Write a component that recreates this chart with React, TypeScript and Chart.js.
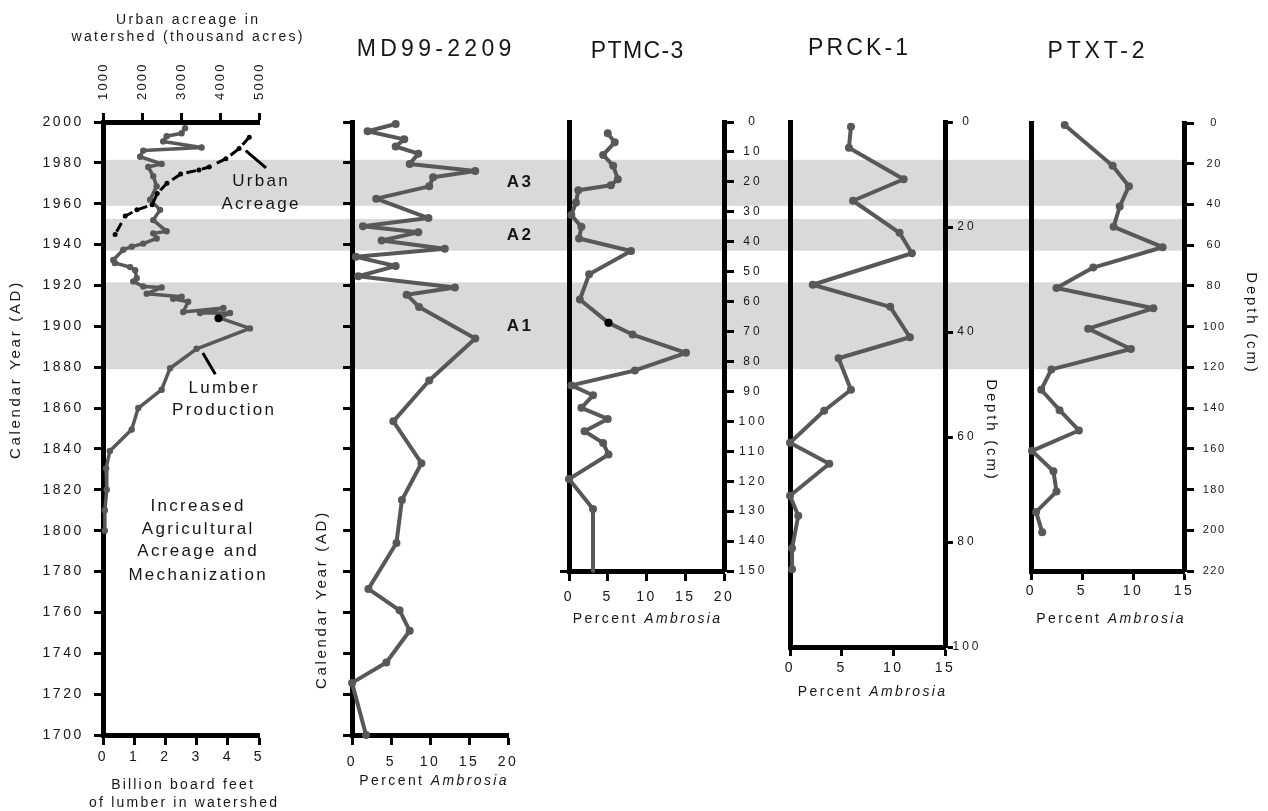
import { useEffect, useRef } from 'react';
import { Chart, registerables } from 'chart.js';

Chart.register(...registerables);

const W = 1268;
const H = 811;
const FONT = '"Liberation Sans", Arial, Helvetica, sans-serif';
const INK = '#161616';
const LINE = '#585858';
const BAND = '#d9d9d9';

// Shaded intervals, calendar years AD
const bandNames = ['A1', 'A2', 'A3'];
const bandStart = [1879, 1937, 1959];
const bandEnd = [1921.5, 1952.5, 1981.5];

// Lumber production in the watershed (billion board feet)
const lumberYears = [1997, 1994.5, 1993, 1990.5, 1987.5, 1986, 1983, 1979.5, 1978, 1973.5, 1968.5, 1962, 1957, 1952, 1946.5, 1945.5, 1943, 1940.5, 1939, 1937.5, 1932.5, 1931, 1929, 1927.5, 1923.5, 1922, 1919.5, 1919, 1916, 1914.5, 1913.5, 1912, 1907, 1909, 1906.5, 1906.5, 1904, 1899, 1889, 1879.5, 1869, 1860, 1849.5, 1839, 1830.5, 1820, 1810, 1800];
const lumberBbf = [2.63, 2.52, 2.04, 1.93, 3.16, 1.29, 1.19, 1.88, 1.45, 1.61, 1.72, 1.51, 1.83, 1.61, 2.04, 1.61, 1.72, 1.29, 0.92, 0.65, 0.33, 0.38, 0.87, 1.03, 1.08, 0.97, 1.29, 1.88, 1.4, 2.52, 2.25, 2.73, 2.57, 3.86, 3.11, 4.07, 3.75, 4.71, 3.0, 2.15, 1.88, 1.13, 0.92, 0.22, 0.1, 0.12, 0.06, 0.06];
const lumberMarkYear = [1904];
const lumberMarkBbf = [3.7];

// Urban acreage in the watershed (thousand acres)
const urbanYears = [1992.5, 1987, 1982, 1978, 1976.5, 1974.5, 1970, 1965, 1959.5, 1957, 1954, 1945];
const urbanAcres = [4750, 4490, 4150, 3720, 3460, 2990, 2640, 2390, 2260, 1870, 1570, 1310];

// Leader lines from the curve labels (panel data units)
const urbanPointerAcres = [4660, 5180];
const urbanPointerYears = [1986, 1977.5];
const lumberPointerBbf = [3.2, 3.6];
const lumberPointerYears = [1887, 1876.5];

// MD99-2209: percent Ambrosia by calendar year
const md99Years = [1999, 1995.5, 1991.5, 1988, 1984.5, 1979.5, 1976, 1973, 1968.5, 1962.5, 1953, 1949, 1946, 1942, 1938, 1934, 1929.5, 1924.5, 1919, 1915.5, 1909.5, 1894, 1873.5, 1853.5, 1833, 1815, 1794, 1771.5, 1761, 1751, 1735.5, 1725.5, 1700];
const md99Ambrosia = [5.6, 2.0, 6.7, 5.6, 8.5, 7.4, 15.8, 10.4, 9.9, 3.1, 9.8, 1.4, 8.5, 3.8, 11.9, 0.5, 5.6, 0.8, 13.2, 7.0, 8.6, 15.8, 9.9, 5.3, 8.9, 6.4, 5.7, 2.1, 6.1, 7.4, 4.4, 0.0, 1.8];

// PTMC-3: percent Ambrosia by depth (cm)
const ptmcDepth = [3.8, 6.8, 11.0, 14.6, 19.1, 21.1, 22.8, 26.9, 31.1, 35.0, 38.9, 43.1, 50.9, 59.3, 67.1, 71.0, 77.1, 83.0, 88.0, 91.3, 95.5, 99.2, 103.3, 107.2, 111.1, 119.3, 129.3, 150];
const ptmcAmbrosia = [5.0, 5.9, 4.4, 5.7, 6.3, 5.4, 1.2, 0.9, 0.3, 1.6, 1.3, 8.0, 2.6, 1.4, 5.1, 8.2, 15.1, 8.5, 0.3, 3.1, 1.6, 5.0, 2.0, 4.4, 5.1, 0.0, 3.1, 3.1];
const ptmcMarkDepth = [67.1];
const ptmcMarkAmbrosia = [5.1];

// PRCK-1: percent Ambrosia by depth (cm)
const prckDepth = [0.9, 4.9, 10.9, 15.0, 21.1, 25.0, 31.0, 35.2, 41.0, 45.0, 51.0, 55.0, 61.1, 65.1, 71.2, 75.0, 81.2, 85.2];
const prckAmbrosia = [5.9, 5.7, 11.0, 6.1, 10.6, 11.8, 2.2, 9.7, 11.6, 4.7, 5.9, 3.3, 0.0, 3.8, 0.0, 0.8, 0.2, 0.2];

// PTXT-2: percent Ambrosia by depth (cm)
const ptxtDepth = [1, 21, 31, 41, 51, 61, 71, 81, 91, 101, 111, 121, 131, 141, 151, 161, 171, 181, 191, 201];
const ptxtAmbrosia = [3.3, 8.0, 9.6, 8.7, 8.1, 12.9, 6.1, 2.5, 12.0, 5.6, 9.8, 2.0, 1.0, 2.8, 4.7, 0.1, 2.2, 2.5, 0.5, 1.1];

const pts = (xs: number[], ys: number[]) => xs.map((x, i) => ({ x, y: ys[i] }));
const label = (v: number | string) => String(v);

type Part = { t: string; italic?: boolean; bold?: boolean };
type Note = { parts: Part[]; x: number; y: number; size: number; sp: number; rot: number };

const note = (t: string, x: number, y: number, size: number, sp = 0, rot = 0): Note => ({ parts: [{ t }], x, y, size, sp, rot });
const ambrosiaTitle = (x: number, y: number): Note => ({
  parts: [{ t: 'Percent ' }, { t: 'Ambrosia', italic: true }],
  x,
  y,
  size: 14,
  sp: 2.4,
  rot: 0,
});

function drawNote(ctx: any, n: Note) {
  ctx.save();
  ctx.translate(n.x, n.y);
  if (n.rot) ctx.rotate((n.rot * Math.PI) / 180);
  ctx.letterSpacing = `${n.sp}px`;
  ctx.textBaseline = 'middle';
  ctx.textAlign = 'left';
  ctx.fillStyle = INK;
  const fonts = n.parts.map((p) => `${p.italic ? 'italic ' : ''}${p.bold ? 'bold ' : ''}${n.size}px ${FONT}`);
  const widths = n.parts.map((p, i) => {
    ctx.font = fonts[i];
    return ctx.measureText(p.t).width;
  });
  const total = widths.reduce((a, b) => a + b, 0) - n.sp;
  let cx = -total / 2;
  n.parts.forEach((p, i) => {
    ctx.font = fonts[i];
    ctx.fillText(p.t, cx, 0);
    cx += widths[i];
  });
  ctx.restore();
}

function notesPlugin(id: string, notes: Note[], extra?: (chart: any) => void) {
  return {
    id,
    afterDraw(chart: any) {
      notes.forEach((n) => drawNote(chart.ctx, n));
      if (extra) extra(chart);
    },
  };
}

// Fix an axis' thickness so the plot areas line up, and letter-space its labels
function fixAxis(size: number, spacing = 0) {
  return (scale: any) => {
    if (scale.isHorizontal()) scale.height = size;
    else scale.width = size;
    scale.paddingLeft = 0;
    scale.paddingRight = 0;
    scale.paddingTop = 0;
    scale.paddingBottom = 0;
    if (spacing && !scale.$spaced) {
      const orig = scale.drawLabels;
      scale.drawLabels = function (area: any) {
        const ctx = this.ctx;
        ctx.save();
        ctx.letterSpacing = `${spacing}px`;
        orig.call(this, area);
        ctx.restore();
      };
      scale.$spaced = true;
    }
  };
}

const tickGrid = (len: number) => ({
  display: true,
  drawOnChartArea: false,
  drawTicks: len > 0,
  tickLength: len,
  tickWidth: 3,
  tickColor: '#000',
  color: '#000',
});
const border = { display: true, width: 5, color: '#000' };

function series(data: { x: number; y: number }[], xAxisID: string, yAxisID: string, extra: any = {}) {
  return {
    data,
    xAxisID,
    yAxisID,
    showLine: true,
    fill: false,
    tension: 0,
    borderColor: LINE,
    borderWidth: 4,
    pointRadius: 4,
    pointBackgroundColor: LINE,
    pointBorderWidth: 0,
    borderJoinStyle: 'round',
    borderCapStyle: 'round',
    clip: false,
    ...extra,
  };
}

function marker(data: { x: number; y: number }[], xAxisID: string, yAxisID: string) {
  return {
    data,
    xAxisID,
    yAxisID,
    showLine: false,
    pointRadius: 4,
    pointBackgroundColor: '#000',
    pointBorderWidth: 0,
    clip: false,
  };
}

const baseOptions = (padding: any) => ({
  responsive: false,
  animation: false,
  events: [],
  layout: { padding, autoPadding: false },
  plugins: { legend: { display: false }, tooltip: { enabled: false } },
});

const xBottom = (max: number, step: number, tl: number, pad: number) => ({
  type: 'linear',
  position: 'bottom',
  min: 0,
  max,
  border,
  grid: tickGrid(tl),
  ticks: { stepSize: step, padding: pad, font: { size: 14 }, color: INK, callback: label, maxRotation: 0, minRotation: 0, autoSkip: false },
  afterFit: fixAxis(40, 2.5),
});

// Shaded intervals drawn behind all panels
function bandsConfig(): any {
  const bandPlugin = {
    id: 'bands',
    beforeDraw(chart: any) {
      const { ctx, chartArea, scales } = chart;
      const y = scales.y;
      ctx.save();
      ctx.fillStyle = BAND;
      bandStart.forEach((s, i) => {
        const top = y.getPixelForValue(bandEnd[i]);
        const bottom = y.getPixelForValue(s);
        ctx.fillRect(chartArea.left, top, chartArea.right - chartArea.left, bottom - top);
      });
      ctx.fillStyle = INK;
      ctx.font = `bold 17px ${FONT}`;
      ctx.letterSpacing = '2.5px';
      ctx.textAlign = 'center';
      ctx.textBaseline = 'middle';
      bandNames.forEach((name, i) => {
        ctx.fillText(name, 520, y.getPixelForValue((bandStart[i] + bandEnd[i]) / 2));
      });
      ctx.restore();
    },
  };
  return {
    type: 'scatter',
    data: { datasets: [] },
    options: {
      ...baseOptions({ left: 103, right: 83, top: 122, bottom: 76 }),
      scales: {
        x: { type: 'linear', display: false, min: 0, max: 1 },
        y: { type: 'linear', display: false, min: 1700, max: 2000 },
      },
    },
    plugins: [bandPlugin],
  };
}

function lumberConfig(): any {
  const notes = [
    note('Urban acreage in', 187, 20, 14, 2.3),
    note('watershed (thousand acres)', 187, 37, 14, 2.3),
    note('Calendar Year (AD)', 16, 371, 15, 2.7, -90),
    note('Billion board feet', 182, 785, 14, 2.2),
    note('of lumber in watershed', 183, 803, 14, 2.2),
    note('Urban', 260, 181, 17, 2.3),
    note('Acreage', 260, 204, 17, 2.3),
    note('Lumber', 223, 388, 17, 2.3),
    note('Production', 223, 410, 17, 2.3),
    note('Increased', 197, 506, 17, 2.3),
    note('Agricultural', 197, 529, 17, 2.3),
    note('Acreage and', 197, 551, 17, 2.3),
    note('Mechanization', 197, 575, 17, 2.3),
  ];
  const extra = (chart: any) => {
    const { ctx } = chart;
    const top = chart.scales.xTop;
    const x = chart.scales.x;
    const y = chart.scales.y;
    ctx.save();
    ctx.fillStyle = INK;
    ctx.font = `13px ${FONT}`;
    ctx.letterSpacing = '2.2px';
    ctx.textBaseline = 'middle';
    ctx.textAlign = 'left';
    top.ticks.forEach((t: any) => {
      ctx.save();
      ctx.translate(top.getPixelForValue(t.value), top.bottom - 22);
      ctx.rotate(-Math.PI / 2);
      ctx.fillText(label(t.value), 0, 0);
      ctx.restore();
    });
    ctx.strokeStyle = '#000';
    ctx.lineWidth = 3;
    ctx.beginPath();
    ctx.moveTo(top.getPixelForValue(urbanPointerAcres[0]), y.getPixelForValue(urbanPointerYears[0]));
    ctx.lineTo(top.getPixelForValue(urbanPointerAcres[1]), y.getPixelForValue(urbanPointerYears[1]));
    ctx.moveTo(x.getPixelForValue(lumberPointerBbf[0]), y.getPixelForValue(lumberPointerYears[0]));
    ctx.lineTo(x.getPixelForValue(lumberPointerBbf[1]), y.getPixelForValue(lumberPointerYears[1]));
    ctx.stroke();
    ctx.restore();
  };
  return {
    type: 'scatter',
    data: {
      datasets: [
        marker(pts(lumberMarkBbf, lumberMarkYear), 'x', 'y'),
        series(pts(urbanAcres, urbanYears), 'xTop', 'y', {
          borderColor: '#000',
          borderWidth: 3,
          borderDash: [10, 6],
          borderCapStyle: 'butt',
          pointRadius: 2.5,
          pointBackgroundColor: '#000',
        }),
        series(pts(lumberBbf, lumberYears), 'x', 'y', { borderWidth: 3.5, pointRadius: 3.2 }),
      ],
    },
    options: {
      ...baseOptions({ left: 43, right: 1009, top: 62, bottom: 36 }),
      scales: {
        x: xBottom(5, 1, 10, 4),
        xTop: {
          type: 'linear',
          position: 'top',
          min: 1000,
          max: 5000,
          border,
          grid: tickGrid(9),
          ticks: { stepSize: 1000, display: false },
          afterFit: fixAxis(60),
        },
        y: {
          type: 'linear',
          position: 'left',
          min: 1700,
          max: 2000,
          border,
          grid: tickGrid(9),
          ticks: { stepSize: 20, padding: 10, font: { size: 14 }, color: INK, callback: label, autoSkip: false },
          afterFit: fixAxis(60, 2.6),
        },
      },
    },
    plugins: [notesPlugin('lumberNotes', notes, extra)],
  };
}

function md99Config(): any {
  const notes = [
    note('MD99-2209', 434, 50, 23, 4.3),
    note('Calendar Year (AD)', 322, 601, 15, 2.7, -90),
    ambrosiaTitle(433, 781.5),
  ];
  return {
    type: 'scatter',
    data: { datasets: [series(pts(md99Ambrosia, md99Years), 'x', 'y')] },
    options: {
      ...baseOptions({ left: 342, right: 760, top: 122, bottom: 36 }),
      scales: {
        x: xBottom(20, 5, 10, 9),
        y: {
          type: 'linear',
          position: 'left',
          min: 1700,
          max: 2000,
          border,
          grid: tickGrid(9),
          ticks: { stepSize: 20, display: false, autoSkip: false },
          afterFit: fixAxis(10),
        },
      },
    },
    plugins: [notesPlugin('md99Notes', notes)],
  };
}

function depthAxis(max: number, step: number, tl: number, pad: number, size: number, width: number, spacing: number) {
  return {
    type: 'linear',
    position: 'right',
    min: 0,
    max,
    reverse: true,
    border,
    grid: tickGrid(tl),
    ticks: { stepSize: step, padding: pad, crossAlign: 'center', font: { size }, color: INK, callback: label, autoSkip: false },
    afterFit: fixAxis(width, spacing),
  };
}

function leftLine(max: number, stubAtBottom: boolean) {
  return {
    type: 'linear',
    position: 'left',
    min: 0,
    max,
    reverse: true,
    border,
    grid: tickGrid(stubAtBottom ? 9 : 0),
    ticks: { display: false },
    afterBuildTicks: (s: any) => {
      s.ticks = [{ value: max }];
    },
    afterFit: fixAxis(stubAtBottom ? 9 : 0),
  };
}

function ptmcConfig(): any {
  const notes = [note('PTMC-3', 637, 52, 23, 1.4), ambrosiaTitle(646.5, 619)];
  return {
    type: 'scatter',
    data: {
      datasets: [
        marker(pts(ptmcMarkAmbrosia, ptmcMarkDepth), 'x', 'y'),
        series(pts(ptmcAmbrosia, ptmcDepth), 'x', 'y', {
          pointRadius: ptmcDepth.map((d, i) => (i === ptmcDepth.length - 1 ? 0 : 4)),
        }),
      ],
    },
    options: {
      ...baseOptions({ left: 560, right: 499, top: 122, bottom: 200 }),
      scales: {
        x: xBottom(20, 5, 10, 8),
        yl: leftLine(150, true),
        y: depthAxis(150, 10, 10, 9, 12, 45, 3),
      },
    },
    plugins: [notesPlugin('ptmcNotes', notes)],
  };
}

function prckConfig(): any {
  const notes = [
    note('PRCK-1', 858, 49, 23, 3.1),
    ambrosiaTitle(871.5, 692),
    note('Depth (cm)', 991, 429, 15, 2.8, 90),
  ];
  return {
    type: 'scatter',
    data: { datasets: [series(pts(prckAmbrosia, prckDepth), 'x', 'y')] },
    options: {
      ...baseOptions({ left: 790, right: 283, top: 122, bottom: 124 }),
      scales: {
        x: xBottom(15, 5, 9, 4),
        yl: leftLine(100, false),
        y: depthAxis(100, 20, 8, 4, 12, 40, 3),
      },
    },
    plugins: [notesPlugin('prckNotes', notes)],
  };
}

function ptxtConfig(): any {
  const notes = [
    note('PTXT-2', 1096, 52, 23, 3.8),
    ambrosiaTitle(1110, 619),
    note('Depth (cm)', 1251, 322, 15, 2.8, 90),
  ];
  return {
    type: 'scatter',
    data: { datasets: [series(pts(ptxtAmbrosia, ptxtDepth), 'x', 'y')] },
    options: {
      ...baseOptions({ left: 1031, right: 34, top: 123, bottom: 200 }),
      scales: {
        x: xBottom(15, 5, 9, 3),
        yl: leftLine(220, false),
        y: depthAxis(220, 20, 10, 11, 11, 50, 1.5),
      },
    },
    plugins: [notesPlugin('ptxtNotes', notes)],
  };
}

export default function App() {
  const canvases = useRef<(HTMLCanvasElement | null)[]>([]);

  useEffect(() => {
    Chart.defaults.font.family = FONT;
    Chart.defaults.color = INK;
    const configs = [bandsConfig(), lumberConfig(), md99Config(), ptmcConfig(), prckConfig(), ptxtConfig()];
    const charts = configs.map((cfg, i) => new Chart(canvases.current[i] as HTMLCanvasElement, cfg));
    return () => charts.forEach((c) => c.destroy());
  }, []);

  return (
    <div style={{ position: 'absolute', left: 0, top: 0, width: W, height: H, background: '#fff', overflow: 'hidden' }}>
      {[0, 1, 2, 3, 4, 5].map((i) => (
        <canvas
          key={i}
          ref={(el) => {
            canvases.current[i] = el;
          }}
          width={W}
          height={H}
          style={{ position: 'absolute', left: 0, top: 0, width: W, height: H }}
        />
      ))}
    </div>
  );
}
